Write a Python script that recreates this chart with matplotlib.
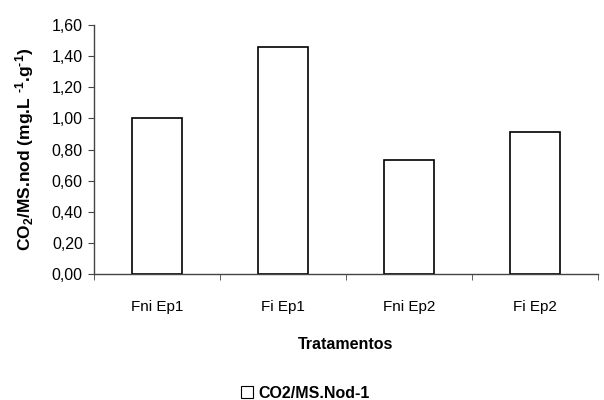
import numpy as np
import matplotlib
matplotlib.use('Agg')
import matplotlib.pyplot as plt
from matplotlib.patches import Patch

plt.rcParams['font.family'] = ['Liberation Sans', 'DejaVu Sans']
plt.rcParams['mathtext.fontset'] = 'custom'
plt.rcParams['mathtext.rm'] = 'Liberation Sans:bold'
plt.rcParams['mathtext.bf'] = 'Liberation Sans:bold'
plt.rcParams['mathtext.default'] = 'bf'

# data
categories = ['Fni Ep1', 'Fi Ep1', 'Fni Ep2', 'Fi Ep2']
values = [1.00, 1.46, 0.73, 0.91]
yticks = [0.0, 0.2, 0.4, 0.6, 0.8, 1.0, 1.2, 1.4, 1.6]
series_name = 'CO2/MS.Nod-1'

fig = plt.figure(figsize=(6.04, 4.00), dpi=100)
ax = fig.add_axes([0.1556, 0.315, 0.834, 0.6225])

x = np.arange(len(categories))
ax.bar(x, values, width=0.4, color='white', edgecolor='black', linewidth=1.2)

ax.set_xlim(-0.5, len(categories) - 0.5)
ax.set_ylim(0, 1.6)
ax.set_yticks(yticks)
ax.set_yticklabels([('%.2f' % v).replace('.', ',') for v in yticks])
ax.tick_params(axis='y', labelsize=11.5, direction='out', length=4, color='#444444', pad=4)

# category labels without tick marks, boundary tick marks via minor ticks
ax.set_xticks(x)
ax.set_xticklabels(categories)
ax.tick_params(axis='x', which='major', length=0, labelsize=11, pad=19)
ax.set_xticks(np.arange(-0.5, len(categories)), minor=True)
ax.tick_params(axis='x', which='minor', length=4, direction='out', color='#444444')

for s in ['top', 'right']:
    ax.spines[s].set_visible(False)
for s in ['left', 'bottom']:
    ax.spines[s].set_color('#444444')
    ax.spines[s].set_linewidth(1.0)

ax.set_xlabel('Tratamentos', fontsize=11.5, fontweight='bold', labelpad=16)
ax.set_ylabel('CO$_2$/MS.nod (mg.L $^{\\text{-1}}$.g$^{\\text{-1}}$)', fontsize=12.5,
              fontweight='bold', labelpad=11)

handle = Patch(facecolor='white', edgecolor='black', linewidth=0.8)
fig.legend([handle], [series_name], loc='center', bbox_to_anchor=(0.505, 0.017),
           frameon=False, prop={'weight': 'bold', 'size': 11.5},
           handlelength=0.8, handleheight=0.8, handletextpad=0.3)

fig.savefig('out.png', dpi=100)
